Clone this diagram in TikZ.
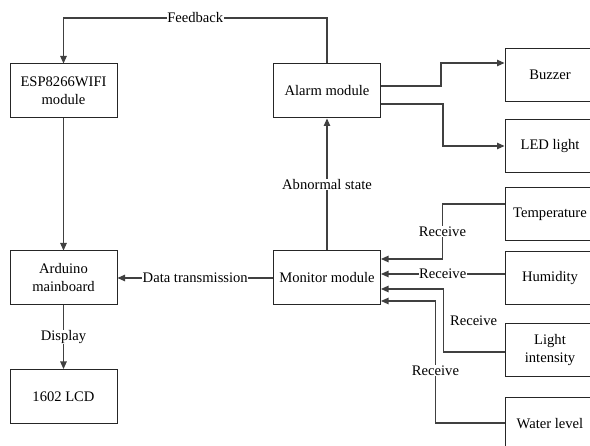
\documentclass[tikz,border=0pt]{standalone}
\usepackage{fontspec}
\setmainfont{Liberation Serif}
\usetikzlibrary{arrows.meta}

\begin{document}
\begin{tikzpicture}[x=1pt,y=-1pt,
        font=\fontsize{14.6}{18}\selectfont,
        box/.style={draw=black!85, line width=1pt, minimum width=107pt, minimum height=54pt, inner sep=0pt, align=center},
        sbox/.style={box, minimum width=90pt, minimum height=53pt},
        arr/.style={draw=black!75, line width=1.1pt, -{Triangle[length=7.5pt,width=6.5pt]}},
        lbl/.style={fill=white, inner sep=0.6pt}]

        % 画布大小
        \useasboundingbox (0,0) rectangle (590,446);
        \clip (0,0) rectangle (590,446);

        % 左侧模块
        \node[box] (esp) at (63.5,91) {ESP8266WIFI\\module};
        \node[box] (ard) at (63.5,278) {Arduino\\mainboard};
        \node[box] (lcd) at (63.5,396.5) {1602 LCD};

        % 中间模块
        \node[box] (alarm) at (327,91) {Alarm module};
        \node[box] (mon) at (327,278) {Monitor module};

        % 右侧模块(右边缘超出画布)
        \node[sbox] (buz) at (550,75) {Buzzer};
        \node[sbox] (led) at (550,146) {LED light};
        \node[sbox] (temp) at (550,214) {Temperature};
        \node[sbox] (hum) at (550,278) {Humidity};
        \node[sbox] (light) at (550,350) {Light\\intensity};
        \node[sbox] (water) at (550,424) {Water level};

        % 反馈回路
        \draw[arr] (alarm.north) -- (alarm.north |- 0,18) -- node[lbl]{Feedback} (esp.north |- 0,18) -- (esp.north);

        % 主控连接
        \draw[arr] (esp) -- (ard);
        \draw[arr] (ard) -- node[lbl]{Display} (lcd);
        \draw[arr] (mon.west) -- node[lbl]{Data transmission} (mon.west -| ard.east);
        \draw[arr] (mon) -- node[lbl]{Abnormal state} (alarm);

        % 报警输出
        \draw[arr] ([yshift=5pt]alarm.east) -- ++(60,0) |- ([yshift=12pt]buz.west);
        \draw[arr] ([yshift=-13pt]alarm.east) -- ++(62,0) |- (led.west);

        % 传感器输入
        \draw[arr] ([yshift=10pt]temp.west) -- ++(-62,0) -- node[lbl]{Receive} ++(0,55) -- ([yshift=19pt]mon.east);
        \draw[arr] ([yshift=4pt]hum.west) -- node[lbl]{Receive} ([yshift=4pt]mon.east);
        \draw[arr] ([yshift=-2pt]light.west) -- ++(-61,0) -- node[right, inner sep=6pt]{Receive} ++(0,-63) -- ([yshift=-11pt]mon.east);
        \draw[arr] ([yshift=1pt]water.west) -- ++(-69,0) -- node[lbl, pos=0.43]{Receive} ++(0,-122) -- ([yshift=-23pt]mon.east);
    \end{tikzpicture}
\end{document}
